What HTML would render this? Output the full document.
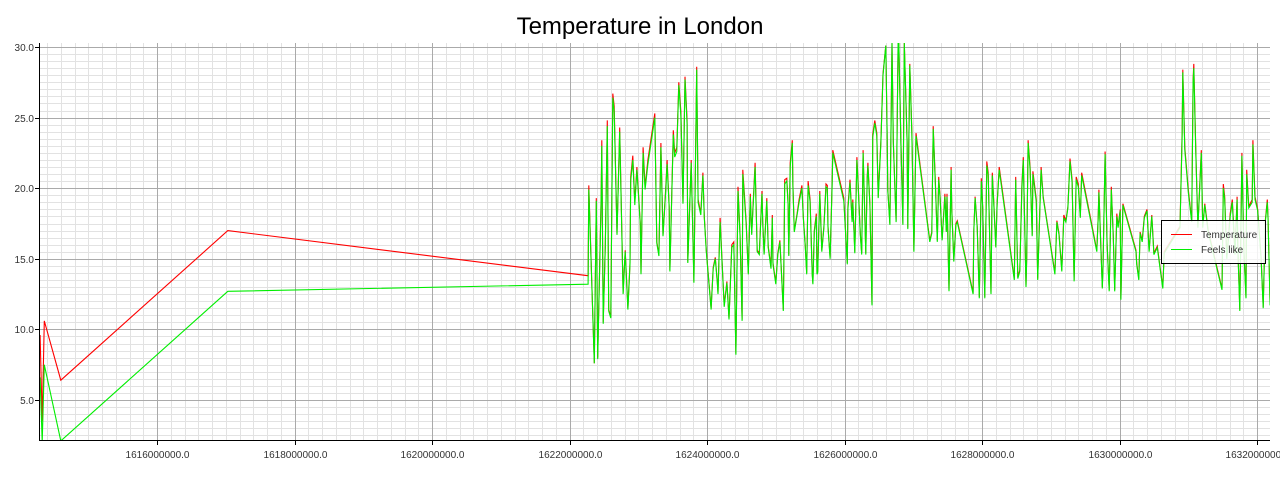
<!DOCTYPE html>
<html><head><meta charset="utf-8"><style>
html,body{margin:0;padding:0;background:#fff;width:1280px;height:480px;overflow:hidden}
svg{display:block;font-family:"Liberation Sans",sans-serif}
</style></head><body>
<svg id="chart" width="1280" height="480" viewBox="0 0 1280 480">
<text x="640" y="34" text-anchor="middle" font-size="24" fill="#000">Temperature in London</text>
<g id="grid"></g>
<g id="series"></g>
<g id="axes"></g>
<g>
<rect x="1161.5" y="220.5" width="104" height="43" fill="#fff" fill-opacity="0.85" stroke="#000" stroke-width="1"/>
<line x1="1171" y1="234.5" x2="1192" y2="234.5" stroke="#f00" stroke-width="1"/>
<text x="1201" y="238" font-size="10" fill="#333">Temperature</text>
<line x1="1171" y1="249.5" x2="1192" y2="249.5" stroke="#0e0" stroke-width="1"/>
<text x="1201" y="253" font-size="10" fill="#333">Feels like</text>
</g>
</svg>
<script>
// time in units of 1e6 seconds (unix time / 1,000,000)
const times = [1614.30,1614.33,1614.36,1614.60,1617.03,
1622.27,1622.28,1622.36,1622.39,1622.41,1622.46,1622.47,1622.49,1622.52,1622.55,1622.57,1622.60,1622.63,1622.65,1622.69,1622.73,1622.78,1622.81,1622.85,1622.88,1622.89,1622.92,1622.95,1622.98,
1623.03,1623.04,1623.07,1623.10,1623.14,1623.24,1623.27,1623.30,1623.33,1623.36,1623.40,1623.42,1623.45,1623.46,1623.51,1623.53,1623.56,1623.59,1623.62,1623.65,1623.68,1623.71,1623.72,1623.77,1623.81,1623.85,1623.87,1623.91,1623.94,1623.96,1623.99,
1624.01,1624.06,1624.09,1624.12,1624.15,1624.16,1624.19,1624.22,1624.25,1624.29,1624.32,1624.36,1624.39,1624.42,1624.45,1624.48,1624.51,1624.52,1624.57,1624.60,1624.63,1624.65,1624.70,1624.73,1624.76,1624.80,1624.81,1624.83,1624.87,1624.89,1624.93,1624.95,1624.96,
1625.00,1625.03,1625.06,1625.11,1625.12,1625.13,1625.16,1625.18,1625.19,1625.21,1625.24,1625.25,1625.27,1625.31,1625.34,1625.38,1625.40,1625.43,1625.45,1625.47,1625.50,1625.53,1625.54,1625.56,1625.59,1625.60,1625.61,1625.64,1625.67,1625.70,1625.73,1625.75,1625.76,1625.79,1625.82,1625.83,1625.99,
1626.04,1626.05,1626.08,1626.11,1626.12,1626.15,1626.18,1626.20,1626.23,1626.25,1626.27,1626.31,1626.33,1626.34,1626.37,1626.40,1626.41,1626.44,1626.47,1626.49,1626.52,1626.53,1626.56,1626.60,1626.62,1626.63,1626.66,1626.69,1626.71,1626.75,1626.78,1626.79,1626.82,1626.85,1626.87,1626.91,1626.92,1626.95,1626.98,
1627.01,1627.04,1627.24,1627.27,1627.29,1627.32,1627.35,1627.37,1627.39,1627.42,1627.46,1627.48,1627.49,1627.52,1627.55,1627.56,1627.59,1627.62,1627.64,1627.87,1627.88,1627.90,1627.93,1627.96,1627.99,
1628.01,1628.04,1628.07,1628.09,1628.13,1628.15,1628.17,1628.20,1628.22,1628.25,1628.47,1628.49,1628.52,1628.55,1628.58,1628.60,1628.64,1628.65,1628.67,1628.70,1628.73,1628.74,1628.79,1628.81,1628.86,1628.89,
1629.06,1629.09,1629.12,1629.16,1629.19,1629.22,1629.25,1629.28,1629.31,1629.34,1629.37,1629.40,1629.43,1629.45,1629.67,1629.69,1629.70,1629.75,1629.76,1629.79,1629.82,1629.85,1629.88,1629.91,1629.93,1629.96,1629.98,
1630.01,1630.02,1630.05,1630.24,1630.25,1630.28,1630.30,1630.33,1630.36,1630.40,1630.43,1630.47,1630.50,1630.55,1630.59,1630.63,1630.65,1630.88,1630.91,1630.92,1630.95,
1631.00,1631.05,1631.07,1631.08,1631.11,1631.14,1631.19,1631.21,1631.24,1631.29,1631.49,1631.51,1631.53,1631.56,1631.61,1631.64,1631.68,1631.71,1631.72,1631.75,1631.78,1631.81,1631.84,1631.85,1631.88,1631.93,1631.94,1631.97,
1632.01,1632.06,1632.09,1632.12,1632.15,1632.16,1632.19];
const temperature = [9.6,3.5,10.6,6.4,17.0,
13.8,20.2,7.6,19.3,8.0,19.3,23.4,10.5,16.0,24.8,11.4,10.9,26.7,25.8,16.8,24.3,12.6,15.6,11.5,14.7,20.8,22.3,19.0,21.5,
17.5,14.0,22.9,20.1,22.0,25.3,16.2,15.3,23.2,16.7,20.1,22.0,18.7,14.2,24.1,22.5,22.9,27.5,25.4,19.0,27.9,24.8,14.8,22.0,13.4,28.6,19.2,18.2,21.1,18.0,15.6,
14.4,11.5,14.4,15.1,13.4,12.6,17.9,14.8,11.7,13.4,10.8,16.0,16.2,8.3,20.1,16.8,10.7,21.3,17.6,14.0,19.6,16.8,21.8,15.6,15.4,19.8,17.7,15.4,19.3,15.9,14.4,18.1,14.7,
13.3,15.4,16.3,11.4,15.4,20.6,20.7,18.9,15.3,21.8,23.4,20.3,17.0,18.2,19.2,20.2,18.0,15.9,14.0,20.5,19.2,14.0,13.3,17.0,18.2,14.0,14.1,19.8,15.6,17.3,20.3,20.2,17.3,15.1,20.3,22.7,19.3,
14.7,18.7,20.6,17.7,19.2,15.5,22.2,20.1,16.8,15.4,22.7,15.4,20.8,21.8,18.9,11.8,23.8,24.8,23.9,19.4,22.5,23.4,28.1,30.1,24.1,19.9,17.5,30.3,23.4,17.7,30.3,30.3,23.4,17.5,30.3,23.4,17.2,28.8,23.9,
15.6,23.9,16.3,16.9,24.4,20.6,16.3,20.8,19.4,16.4,19.6,17.0,19.6,12.8,21.5,18.5,14.9,17.5,17.7,12.6,17.0,19.4,17.3,12.3,20.7,
18.7,12.3,21.9,21.1,12.6,21.1,19.2,15.9,18.9,21.5,13.6,20.8,13.7,14.2,20.3,22.2,13.1,15.1,23.4,21.5,16.7,21.2,19.2,13.6,21.5,19.4,
14.0,17.7,16.8,14.2,18.1,17.7,18.7,22.1,20.6,13.5,20.8,20.3,18.0,21.1,15.6,18.0,19.9,13.0,14.4,22.6,16.1,12.8,20.1,16.6,12.8,18.2,17.3,
18.5,12.2,18.9,15.6,14.7,13.6,16.9,16.3,18.0,18.5,15.6,18.1,15.4,15.9,14.4,13.0,15.5,17.3,23.9,28.4,22.9,
19.9,17.7,27.7,28.8,22.7,17.3,22.7,17.3,18.9,17.0,12.9,20.3,19.4,15.1,18.2,19.2,15.4,19.4,15.9,11.4,22.5,15.6,12.3,21.3,18.7,19.2,23.4,19.4,
18.5,15.1,11.6,17.7,19.2,18.0,11.8];
const feelsLike = [6.6,2.0,7.5,2.1,12.7,
13.2,19.9,7.6,19.1,7.9,19.0,23.0,10.4,15.9,24.4,11.3,10.8,26.4,25.4,16.7,24.0,12.5,15.5,11.4,14.6,20.5,22.0,18.8,21.3,
17.4,13.9,22.5,19.9,21.7,25.0,16.1,15.2,22.9,16.6,19.9,21.7,18.6,14.1,23.8,22.2,22.6,27.3,25.1,18.9,27.7,24.5,14.7,21.8,13.3,28.4,19.0,18.1,20.9,17.9,15.5,
14.3,11.4,14.3,15.0,13.3,12.5,17.6,14.7,11.6,13.3,10.7,15.8,16.0,8.2,19.8,16.7,10.6,21.0,17.4,13.9,19.4,16.7,21.5,15.5,15.3,19.6,17.6,15.3,19.1,15.8,14.3,17.9,14.6,
13.2,15.3,16.2,11.3,15.3,20.3,20.5,18.8,15.2,21.5,23.2,20.1,16.9,18.1,19.0,20.0,17.9,15.8,13.9,20.2,19.0,13.9,13.2,16.9,18.0,13.9,14.0,19.6,15.5,17.2,20.1,20.0,17.2,15.0,20.1,22.5,19.1,
14.6,18.5,20.4,17.6,19.0,15.4,22.0,19.9,16.7,15.3,22.5,15.3,20.6,21.6,18.8,11.7,23.6,24.6,23.7,19.3,22.3,23.2,28.0,30.1,23.9,19.8,17.4,30.3,23.2,17.6,30.3,30.3,23.2,17.4,30.3,23.2,17.1,28.7,23.7,
15.5,23.7,16.2,16.8,24.2,20.4,16.2,20.6,19.3,16.3,19.4,16.9,19.4,12.7,21.3,18.4,14.8,17.4,17.6,12.5,16.9,19.3,17.2,12.2,20.5,
18.6,12.2,21.6,20.9,12.5,20.9,19.0,15.8,18.8,21.3,13.5,20.6,13.6,14.1,20.0,22.0,13.0,15.0,23.2,21.3,16.6,21.0,19.0,13.5,21.3,19.3,
13.9,17.6,16.7,14.1,17.9,17.6,18.6,21.9,20.4,13.4,20.6,20.1,17.9,20.9,15.5,17.9,19.7,12.9,14.3,22.4,16.0,12.7,19.9,16.5,12.7,18.0,17.2,
18.4,12.1,18.8,15.5,14.6,13.5,16.8,16.2,17.9,18.4,15.5,18.0,15.3,15.8,14.3,12.9,15.4,17.2,23.5,28.2,22.7,
19.7,17.6,27.5,28.5,22.5,17.2,22.5,17.2,18.8,16.9,12.8,20.0,19.2,15.0,18.0,19.0,15.3,19.2,15.8,11.3,22.3,15.5,12.2,21.0,18.6,19.0,23.1,19.2,
18.4,15.0,11.5,17.6,19.0,17.9,11.7];
const xTicks = [1616,1618,1620,1622,1624,1626,1628,1630,1632];
const xTickLabels = ["1616000000.0","1618000000.0","1620000000.0","1622000000.0","1624000000.0","1626000000.0","1628000000.0","1630000000.0","1632000000.0"];
const yTicks = [5,10,15,20,25,30];
const yTickLabels = ["5.0","10.0","15.0","20.0","25.0","30.0"];

const NS='http://www.w3.org/2000/svg';
const L=40,R=1270,T=43,B=440;
const X0=1614.298, XPX=68.75;
const Y30=47, YPX=14.12;
function xs(t){return L+(t-X0)*XPX;}
function ys(v){return Y30+(30-v)*YPX;}
function mk(tag,attrs,parent){const e=document.createElementNS(NS,tag);for(const k in attrs)e.setAttribute(k,attrs[k]);parent.appendChild(e);return e;}

const grid=document.getElementById('grid');
// minor verticals
for(let t=1614.4;t<1632.3;t+=0.2){const x=Math.round(xs(t))+0.5;if(x<=L||x>=R)continue;
 const g=mk('line',{x1:x,y1:T,x2:x,y2:B,stroke:'#e2e2e2','stroke-width':1},grid);
 
 }
for(let v=2.5;v<=30.2;v+=0.5){const y=Math.round(ys(v))+0.5;if(y<=T||y>=B)continue;
 const g=mk('line',{x1:L,y1:y,x2:R,y2:y,stroke:'#e2e2e2','stroke-width':1},grid);
 
 }
xTicks.forEach(t=>{const x=Math.round(xs(t))+0.5;
 const g=mk('line',{x1:x,y1:T,x2:x,y2:B,stroke:'#aaa','stroke-width':1},grid);
 
 });
yTicks.forEach(v=>{const y=Math.round(ys(v))+0.5;
 const g=mk('line',{x1:L,y1:y,x2:R,y2:y,stroke:'#aaa','stroke-width':1},grid);
 
 });

const ser=document.getElementById('series');
const defs=mk('defs',{},ser);
const cp=mk('clipPath',{id:'plotclip'},defs);
mk('rect',{x:L,y:T,width:R-L,height:B-T},cp);
function pathFor(vals){return vals.map((v,i)=>(i?'L':'M')+xs(times[i]).toFixed(1)+','+ys(v).toFixed(1)).join('');}
const pT=mk('path',{d:pathFor(temperature),fill:'none',stroke:'#f00','stroke-width':1.1,'clip-path':'url(#plotclip)'},ser);


const pF=mk('path',{d:pathFor(feelsLike),fill:'none',stroke:'#0e0','stroke-width':1.1,'clip-path':'url(#plotclip)'},ser);



const ax=document.getElementById('axes');
const la=mk('line',{x1:L-0.5,y1:T,x2:L-0.5,y2:B,stroke:'#000','stroke-width':1},ax);


const ba=mk('line',{x1:L-1,y1:B+0.5,x2:R,y2:B+0.5,stroke:'#000','stroke-width':1},ax);


yTicks.forEach((v,i)=>{const y=Math.round(ys(v))+0.5;
 const tk=mk('line',{x1:L-5,y1:y,x2:L,y2:y,stroke:'#000','stroke-width':1},ax);
 
 
 const tx=mk('text',{x:L-6,y:y+3.5,'text-anchor':'end','font-size':10,fill:'#333'},ax);
 tx.textContent=yTickLabels[i];
 
 });
xTicks.forEach((t,i)=>{const x=Math.round(xs(t))+0.5;
 const tk=mk('line',{x1:x,y1:B,x2:x,y2:B+5,stroke:'#000','stroke-width':1},ax);
 
 
 const tx=mk('text',{x:x,y:B+18,'text-anchor':'middle','font-size':10,fill:'#333'},ax);
 tx.textContent=xTickLabels[i];
 
 });
</script>
</body></html>
